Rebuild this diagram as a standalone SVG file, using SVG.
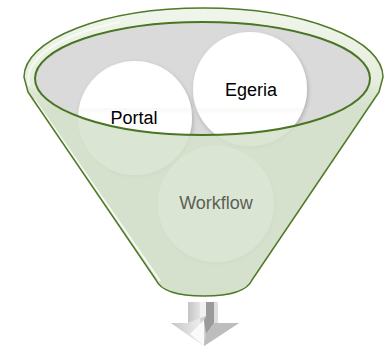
<svg xmlns="http://www.w3.org/2000/svg" width="385" height="349" viewBox="0 0 385 349">
<style>
.lbl{font-family:"Liberation Sans",Arial,sans-serif;font-size:18px;text-anchor:middle}
.bubble{fill:#fff;filter:url(#sh)}
.cone{fill:#d6e1cd}
.edge{fill:none;stroke:#4f7a27;stroke-width:1.5;stroke-linejoin:round}
</style>
<defs>
<filter id="sh" x="-20%" y="-20%" width="140%" height="140%">
<feDropShadow dx="1" dy="2" stdDeviation="2" flood-color="#000" flood-opacity="0.22"/>
</filter>
<linearGradient id="rim" gradientUnits="userSpaceOnUse" x1="0" y1="8" x2="0" y2="115">
<stop offset="0" stop-color="#f1f6ec" stop-opacity="0.97"/>
<stop offset="0.7" stop-color="#e8efe0" stop-opacity="0.9"/>
<stop offset="1" stop-color="#d6e1cd" stop-opacity="0"/>
</linearGradient>
<linearGradient id="shaftL" x1="0" y1="0" x2="1" y2="0">
<stop offset="0" stop-color="#c4c4c4"/>
<stop offset="1" stop-color="#e4e4e4"/>
</linearGradient>
<linearGradient id="headL" x1="0" y1="0" x2="1" y2="0">
<stop offset="0" stop-color="#c6c6c6"/>
<stop offset="1" stop-color="#f2f2f2"/>
</linearGradient>
</defs>
<g id="funnel">
<path class="cone" d="M24,77 A179.5,69 0 0 1 383,77 L379,92 L252,280 Q245,296 204,296 Q163,296 156,280 L28,92 Z"/>
<ellipse cx="202.5" cy="78.5" rx="167.5" ry="56.5" fill="#dadada"/>
</g>
<g id="node-portal">
<circle class="bubble" cx="135" cy="118" r="57"/>
</g>
<g id="node-egeria">
<circle class="bubble" cx="250" cy="89" r="57"/>
</g>
<g id="node-workflow">
<circle class="bubble" cx="216" cy="204" r="58"/>
</g>
<g id="front">
<path fill="#d6e1cd" fill-opacity="0.87" fill-rule="evenodd" d="M24,77 A179.5,69 0 0 1 383,77 L379,92 L252,280 Q245,296 204,296 Q163,296 156,280 L28,92 Z M35,78.5 A167.5,56.5 0 1 0 370,78.5 A167.5,56.5 0 1 0 35,78.5 Z"/>
<path fill="url(#rim)" fill-rule="evenodd" d="M24,77 A179.5,69 0 0 1 383,77 L379,92 L370,108 L35,108 L28,92 Z M35,78.5 A167.5,56.5 0 1 0 370,78.5 A167.5,56.5 0 1 0 35,78.5 Z"/>
<path d="M34,99 L160,281" stroke="#fff" stroke-width="2" stroke-opacity="0.8" fill="none"/>
<path d="M29,86 A176,66 0 0 1 120,22" stroke="#fff" stroke-width="2" stroke-opacity="0.6" fill="none"/>
<path class="edge" d="M24,77 A179.5,69 0 0 1 383,77 L379,92 L252,280 Q245,296 204,296 Q163,296 156,280 L28,92 Z"/>
<ellipse cx="202.5" cy="78.5" rx="167.5" ry="56.5" fill="none" stroke="#4a7522" stroke-width="2"/>
</g>
<text class="lbl" x="134" y="124" fill="#000">Portal</text>
<text class="lbl" x="251" y="96" fill="#000">Egeria</text>
<text class="lbl" x="216" y="209" fill="#5b6058">Workflow</text>
<g id="connectors">
<polygon points="188,302 218,302 218,323 239,323 204,346 171,323 188,323" fill="#d2d2d2"/>
<polygon points="188,302 200,302 200,318 188,323" fill="url(#shaftL)"/>
<polygon points="200,302 206,302 206,316 200,318" fill="#f0f0f0"/>
<polygon points="206,302 214,302 214,323 206,334 204,320 206,316" fill="#9a9a9a"/>
<polygon points="214,302 218,302 218,323 214,323" fill="#dedede"/>
<polygon points="171,323 188,323 200,318 204,346" fill="url(#headL)"/>
<polygon points="190,334 204,320 204,346" fill="#fafafa"/>
<polygon points="214,323 239,323 204,346 206,334" fill="#bdbdbd"/>
</g>
</svg>
